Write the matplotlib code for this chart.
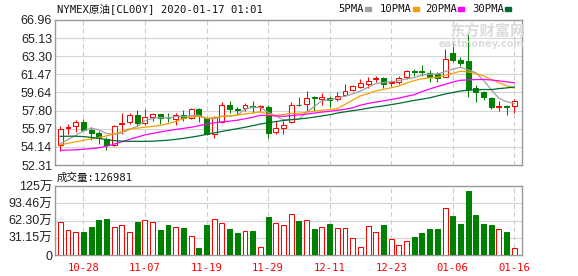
import numpy as np
import matplotlib.pyplot as plt
from matplotlib.patches import Rectangle

plt.rcParams['font.family'] = ['DejaVu Sans Mono', 'Noto Sans CJK SC']

# dados do grafico
dates = ['10-23', '10-24', '10-25', '10-28', '10-29', '10-30', '10-31', '11-01', '11-04', '11-05',
         '11-06', '11-07', '11-08', '11-11', '11-12', '11-13', '11-14', '11-15', '11-18', '11-19',
         '11-20', '11-21', '11-22', '11-25', '11-26', '11-27', '11-28', '11-29', '12-02', '12-03',
         '12-04', '12-05', '12-06', '12-09', '12-10', '12-11', '12-12', '12-13', '12-16', '12-17',
         '12-18', '12-19', '12-20', '12-23', '12-24', '12-26', '12-27', '12-30', '12-31', '01-02',
         '01-03', '01-06', '01-07', '01-08', '01-09', '01-10', '01-13', '01-14', '01-15', '01-16']

opens = [54.37, 56.04, 56.24, 56.64, 55.87, 55.54, 54.97, 54.31, 56.47, 56.70,
         57.37, 56.54, 57.20, 57.47, 57.10, 56.97, 57.37, 57.07, 57.97, 57.04,
         55.47, 56.64, 58.37, 57.94, 58.04, 58.24, 58.17, 58.20, 55.61, 56.04,
         56.64, 58.40, 58.47, 59.20, 58.97, 59.04, 58.97, 59.37, 59.90, 60.23,
         60.50, 60.97, 61.13, 60.60, 60.70, 61.23, 61.77, 61.77, 61.63, 61.53,
         61.23, 63.63, 62.90, 62.86, 60.13, 59.70, 59.07, 58.20, 58.27, 58.23]
highs = [56.24, 56.47, 56.87, 56.97, 56.14, 55.70, 55.14, 56.37, 57.57, 57.57,
         57.87, 57.97, 57.54, 57.47, 57.57, 57.57, 57.87, 58.07, 58.07, 57.14,
         57.24, 58.70, 58.80, 58.14, 58.57, 58.80, 58.37, 58.37, 56.80, 56.80,
         58.70, 59.14, 59.77, 59.30, 59.57, 59.24, 59.70, 60.47, 60.37, 60.97,
         61.23, 61.30, 61.23, 60.87, 61.30, 61.90, 61.97, 62.37, 61.90, 61.70,
         64.03, 64.70, 63.20, 65.70, 60.37, 59.80, 59.23, 58.80, 58.37, 58.97]
lows = [53.71, 55.47, 55.64, 55.70, 54.81, 54.47, 53.81, 54.24, 55.47, 56.47,
        56.24, 56.37, 56.80, 56.47, 56.64, 56.37, 56.80, 56.97, 56.64, 55.37,
        55.04, 56.57, 57.57, 57.37, 57.80, 57.57, 57.64, 55.07, 55.47, 55.47,
        56.57, 58.30, 57.80, 57.80, 58.37, 58.14, 58.80, 59.30, 59.80, 60.10,
        60.13, 60.70, 60.13, 60.30, 60.47, 61.03, 61.30, 61.30, 60.70, 60.70,
        61.23, 62.70, 62.30, 59.20, 58.70, 58.90, 57.97, 57.80, 57.40, 57.57]
closes = [55.97, 56.14, 56.70, 55.80, 55.57, 55.07, 54.31, 56.24, 56.57, 57.37,
          56.54, 57.14, 57.44, 57.07, 57.07, 57.37, 57.04, 57.97, 57.24, 55.47,
          57.14, 58.37, 57.97, 57.87, 58.37, 58.17, 58.24, 55.54, 56.04, 56.37,
          58.37, 58.34, 59.04, 59.04, 59.20, 58.87, 59.24, 59.80, 60.30, 60.57,
          60.83, 61.05, 60.47, 60.70, 61.10, 61.77, 61.70, 61.70, 61.23, 61.13,
          63.03, 62.90, 62.63, 59.97, 59.70, 59.20, 58.14, 58.30, 58.20, 58.77]

# volume em 万
volumes = [58.9, 44.5, 40.9, 41.5, 49.9, 62.5, 64.3, 49.9, 53.5, 40.9,
           58.9, 62.5, 58.9, 44.5, 53.5, 49.9, 48.1, 33.7, 12.6, 54.1,
           64.3, 57.1, 46.9, 39.7, 42.7, 42.7, 13.8, 68.5, 57.1, 53.5,
           73.9, 60.7, 62.5, 46.9, 49.9, 55.9, 48.1, 48.1, 30.0, 13.8,
           51.7, 41.5, 54.1, 28.2, 17.4, 24.6, 31.9, 39.7, 46.9, 46.9,
           84.1, 70.3, 55.9, 115.4, 72.1, 55.9, 54.1, 46.3, 41.5, 12.7]

ma5 = [54.47, 54.87, 55.31, 55.74, 56.04, 55.86, 55.49, 55.40, 55.55, 55.91,
       56.21, 56.77, 57.01, 57.11, 57.05, 57.22, 57.20, 57.30, 57.34, 57.02,
       56.97, 57.24, 57.24, 57.36, 57.94, 58.15, 58.12, 57.64, 57.27, 56.87,
       56.91, 56.93, 57.63, 58.23, 58.80, 58.90, 59.08, 59.25, 59.50, 59.77,
       60.17, 60.53, 60.64, 60.72, 60.83, 61.02, 61.14, 61.39, 61.49, 61.50,
       61.75, 61.99, 62.18, 61.93, 61.64, 60.87, 59.92, 59.06, 58.71, 58.52]
ma10 = [54.35, 54.50, 54.65, 54.80, 54.95, 55.10, 55.25, 55.45, 55.70, 55.97,
        56.03, 56.13, 56.21, 56.33, 56.48, 56.71, 56.99, 57.16, 57.23, 57.04,
        57.10, 57.22, 57.27, 57.35, 57.48, 57.56, 57.68, 57.44, 57.32, 57.41,
        57.53, 57.53, 57.64, 57.75, 57.84, 57.91, 58.01, 58.44, 58.87, 59.29,
        59.53, 59.80, 59.95, 60.11, 60.30, 60.59, 60.84, 61.02, 61.11, 61.17,
        61.39, 61.57, 61.78, 61.71, 61.57, 61.31, 60.96, 60.62, 60.32, 60.08]
ma20 = [53.80, 53.82, 53.85, 53.90, 53.96, 54.05, 54.20, 54.42, 54.66, 54.90,
        55.13, 55.35, 55.50, 55.65, 55.78, 55.90, 56.01, 56.12, 56.28, 56.45,
        56.56, 56.67, 56.74, 56.84, 56.98, 57.14, 57.33, 57.30, 57.27, 57.22,
        57.31, 57.37, 57.45, 57.55, 57.66, 57.73, 57.84, 57.94, 58.09, 58.35,
        58.53, 58.67, 58.79, 58.93, 59.07, 59.25, 59.42, 59.73, 59.99, 60.23,
        60.46, 60.69, 60.87, 60.91, 60.94, 60.95, 60.90, 60.82, 60.71, 60.62]
ma30 = [55.20, 55.22, 55.22, 55.18, 55.10, 55.00, 54.88, 54.78, 54.72, 54.70,
        54.70, 54.70, 54.72, 54.76, 54.82, 54.90, 55.00, 55.12, 55.25, 55.40,
        55.55, 55.70, 55.85, 55.98, 56.12, 56.28, 56.45, 56.58, 56.70, 56.81,
        56.89, 56.96, 57.04, 57.15, 57.27, 57.39, 57.56, 57.68, 57.80, 57.91,
        58.05, 58.18, 58.28, 58.41, 58.54, 58.69, 58.84, 58.96, 59.10, 59.29,
        59.48, 59.63, 59.79, 59.86, 59.90, 59.94, 59.93, 60.03, 60.10, 60.18]

price_ticks = [52.31, 54.14, 55.97, 57.80, 59.64, 61.47, 63.30, 65.13, 66.96]
vol_ticks = [0, 31.15, 62.30, 93.46, 124.61]
vol_labels = ['0', '31.15万', '62.30万', '93.46万', '125万']
ma_names = ['5PMA', '10PMA', '20PMA', '30PMA']
ma_colors = ['#a0a0a0', '#f5a000', '#ff00ff', '#006b32']

RED = '#ff0000'
GREEN = '#008000'
W, H = 578, 276

o = np.array(opens)
c = np.array(closes)
x = np.arange(len(c))
up = c >= o
edge = np.where(up, RED, GREEN)
face = np.where(up, 'white', GREEN)

fig = plt.figure(figsize=(W / 100, H / 100), dpi=100)
ax = fig.add_axes([55 / W, 1 - 165 / H, 467.3 / W, 145 / H])
axv = fig.add_axes([55 / W, 1 - 255 / H, 467.3 / W, 69 / H])

# velas
ax.vlines(x, lows, highs, colors=edge, lw=0.75, zorder=2)
ax.bar(x, np.maximum(np.abs(c - o), 0.02), bottom=np.minimum(o, c), width=0.64,
       color=face, edgecolor=edge, linewidth=0.75, zorder=3)

for serie, cor in zip([ma5, ma10, ma20, ma30], ma_colors):
    ax.plot(x, serie, color=cor, lw=0.9, zorder=4)

# volume
axv.bar(x, volumes, width=0.64, color=face, edgecolor=edge, linewidth=0.75, zorder=3)

tick_pos = x[3::8]
for a in (ax, axv):
    a.set_xlim(-0.69, 60.04)
    a.set_xticks(tick_pos)
    a.set_axisbelow(True)
    a.xaxis.grid(True, color='#cccccc', linestyle=(0, (4, 3)), lw=0.8)
    a.yaxis.grid(True, color='#d4d4d4', lw=0.8)
    a.tick_params(length=0, colors='#222222')
    for s in a.spines.values():
        s.set_color('#999999')
        s.set_linewidth(1)

ax.set_ylim(52.31, 66.96)
ax.set_yticks(price_ticks)
ax.set_yticklabels(['%.2f' % v for v in price_ticks], fontfamily='Liberation Sans', fontsize=9)
ax.set_xticklabels([])
ax.tick_params(axis='y', pad=2)

axv.set_ylim(0, 124.61)
axv.set_yticks(vol_ticks)
axv.set_yticklabels(vol_labels, fontfamily=['Liberation Sans', 'Noto Sans CJK SC'], fontsize=9)
axv.set_xticklabels([dates[i] for i in tick_pos], color=RED, fontsize=7.6)
axv.tick_params(axis='y', pad=2)
axv.tick_params(axis='x', pad=6)

# textos do topo
fig.text(57 / W, 1 - 9 / H, 'NYMEX原油[CL00Y] 2020-01-17 01:01', fontsize=7.6,
         va='center', ha='left', color='#111111')
leg_x = [338, 380, 425, 472]
for nome, cor, lx in zip(ma_names, ma_colors, leg_x):
    t = fig.text(lx / W, 1 - 9 / H, nome, fontsize=7.6, va='center', ha='left', color='#111111')
    mx = lx + len(nome) * 6 + 3
    fig.patches.append(Rectangle((mx / W, 1 - 10.5 / H), 6 / W, 3.5 / H,
                                 transform=fig.transFigure, color=cor))

fig.text(57 / W, 1 - 177.5 / H, '成交量:126981', fontsize=7.6, va='center', ha='left',
         color='#111111')

# marca d'agua
fig.text(487 / W, 1 - 31 / H, '东方财富网', fontsize=11, fontweight='bold',
         family='Noto Sans CJK SC', color='#dcdcdc', ha='center', va='center', zorder=0)
fig.text(481 / W, 1 - 44 / H, 'eastmoney.com', fontsize=7, fontweight='bold',
         family='DejaVu Sans', color='#dcdcdc', ha='center', va='center', zorder=0)

fig.savefig('out.png', dpi=100)
